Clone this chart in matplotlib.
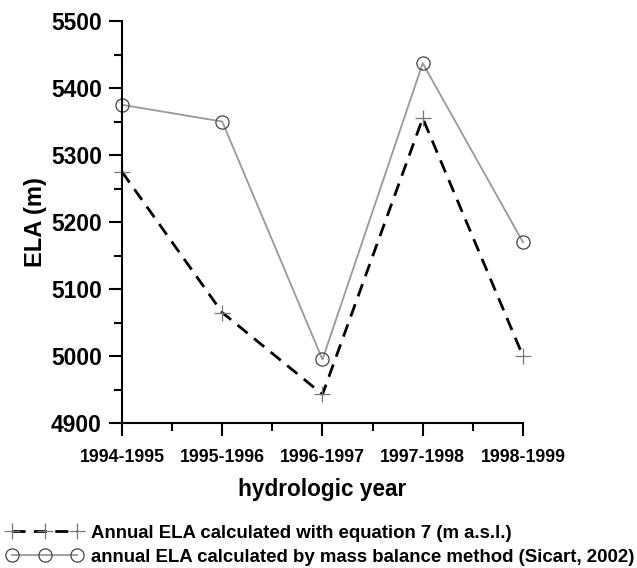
import matplotlib
matplotlib.use("Agg")
import matplotlib.pyplot as plt
from matplotlib.ticker import MultipleLocator

plt.rcParams['font.family'] = ['Liberation Sans', 'DejaVu Sans']

years = ["1994-1995", "1995-1996", "1996-1997", "1997-1998", "1998-1999"]
ela_eq7 = [5275, 5065, 4943, 5355, 5000]
ela_mass_balance = [5375, 5350, 4995, 5437, 5170]

fig = plt.figure(figsize=(6.37, 5.68), dpi=100)
ax = fig.add_axes([0.1915, 0.255, 0.6295, 0.708])

x = list(range(len(years)))
ax.plot(x, ela_eq7, color='black', lw=2.0, ls=(0, (4.7, 3.0)), marker='+', ms=11,
        mec='#777777', mew=0.9,
        label='Annual ELA calculated with equation 7 (m a.s.l.)')
ax.plot(x, ela_mass_balance, color='#999999', lw=1.3, marker='o', ms=9.5,
        mfc='none', mec='#444444', mew=0.9,
        label='annual ELA calculated by mass balance method (Sicart, 2002)')

ax.set_xlim(0, 4)
ax.set_ylim(4900, 5500)
ax.set_xticks(x)
ax.set_xticklabels(years, fontsize=12.8, fontweight='bold')
ax.xaxis.set_minor_locator(MultipleLocator(0.5))
ax.yaxis.set_major_locator(MultipleLocator(100))
ax.yaxis.set_minor_locator(MultipleLocator(50))
for lab in ax.get_yticklabels():
    lab.set_fontsize(16.5)
    lab.set_fontweight('bold')
ax.tick_params(axis='both', which='major', direction='out', length=9.5, width=1.5)
ax.tick_params(axis='both', which='minor', direction='out', length=5.5, width=1.5)
ax.tick_params(axis='y', which='major', pad=5)
ax.tick_params(axis='x', which='major', pad=9)
for s in ['top', 'right']:
    ax.spines[s].set_visible(False)
for s in ['left', 'bottom']:
    ax.spines[s].set_linewidth(1.5)
for l in ax.lines:
    l.set_clip_on(False)

ax.set_ylabel('ELA (m)', fontsize=17, fontweight='bold', labelpad=3)
ax.set_xlabel('hydrologic year', fontsize=16.3, fontweight='bold', labelpad=9)

leg = fig.legend(loc='upper left', bbox_to_anchor=(0.0104, 0.076), frameon=False,
                 numpoints=3, handlelength=4.1, handletextpad=0.46, labelspacing=0.38,
                 prop={'weight': 'bold', 'size': 13.4}, borderaxespad=0, borderpad=0)

fig.savefig('out.png', dpi=100)
